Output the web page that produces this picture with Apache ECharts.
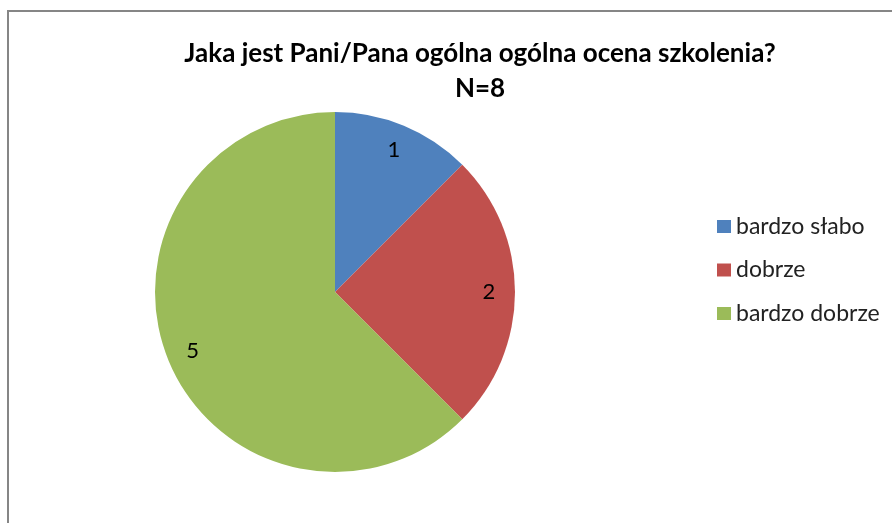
<!DOCTYPE html>
<html><head><meta charset="utf-8">
<script src="https://cdn.jsdelivr.net/npm/echarts@6/dist/echarts.min.js"></script>
<style>html,body{margin:0;padding:0;background:#fff}#c{width:892px;height:523px}</style>
</head><body><div id="c"></div>
<script>
const categories = ['bardzo słabo', 'dobrze', 'bardzo dobrze'];
const values = [1, 2, 5];
const colors = ['#4F81BD', '#C0504D', '#9BBB59'];
const titleText = 'Jaka jest Pani/Pana ogólna ogólna ocena szkolenia?\nN=8';

const font = 'Lato, "Open Sans", sans-serif';
const data = categories.map((n, i) => ({ name: n, value: values[i], itemStyle: { color: colors[i] } }));
const chart = echarts.init(document.getElementById('c'), null, { renderer: 'canvas' });
chart.setOption({
  animation: false,
  graphic: [{ type: 'rect', shape: { x: 8, y: 11, width: 1000, height: 1000 }, style: { fill: 'none', stroke: '#868686', lineWidth: 2 }, z: 100 }],
  title: {
    text: titleText, left: 475, top: 31, textAlign: 'center',
    textStyle: { fontFamily: font, fontWeight: 'bold', fontSize: 26, color: '#000', lineHeight: 35 }
  },
  legend: {
    orient: 'vertical', left: 712, top: 210, itemGap: 20.5, itemWidth: 14, itemHeight: 13,
    icon: 'rect', data: categories,
    textStyle: { fontFamily: font, fontSize: 23, color: '#222' }
  },
  series: [{
    type: 'pie', radius: [0, 180], center: [335, 292], startAngle: 90, clockwise: true,
    label: { show: false }, labelLine: { show: false }, data: data
  }, {
    type: 'pie', radius: [146, 156], center: [335, 292], startAngle: 90, clockwise: true, silent: true,
    itemStyle: { color: 'rgba(0,0,0,0)' },
    label: { show: true, position: 'inside', formatter: '{c}', fontFamily: font, fontSize: 22, color: '#000' },
    labelLine: { show: false },
    data: categories.map((n, i) => ({ name: n, value: values[i], itemStyle: { color: 'rgba(0,0,0,0)' } }))
  }]
});
</script></body></html>
